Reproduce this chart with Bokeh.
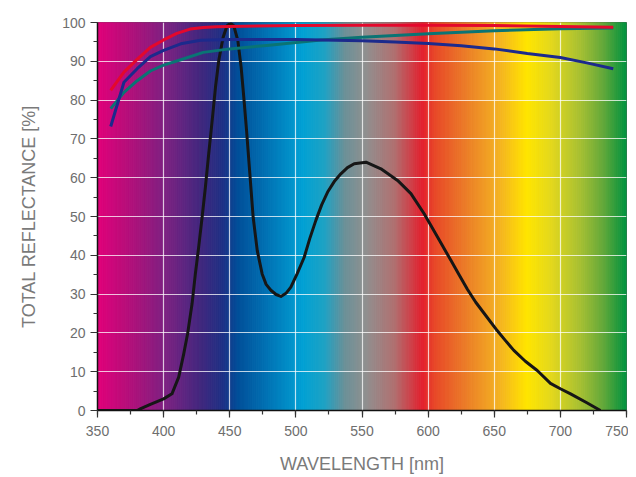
import numpy as np
from bokeh.plotting import figure
from bokeh.models import SingleIntervalTicker, FixedTicker, Range1d
from bokeh.embed import file_html
from bokeh.resources import INLINE

# ---- data ----
wl_red = [360, 370, 380, 390, 400, 410, 420, 430, 440, 450, 500, 550, 600, 650, 700, 740]
refl_red = [82.5, 87.2, 90.5, 93.6, 95.5, 97.2, 98.3, 98.7, 98.9, 99.0, 99.2, 99.3, 99.3, 99.2, 99.0, 98.8]

wl_navy = [360, 370, 380, 390, 400, 413, 428, 450, 500, 550, 575, 600, 625, 650, 675, 700, 720, 740]
refl_navy = [73.2, 84.6, 88.1, 91.2, 92.8, 94.5, 95.4, 95.6, 95.6, 95.3, 95.0, 94.6, 94.0, 93.2, 92.0, 91.0, 89.6, 88.1]

wl_teal = [360, 370, 380, 390, 400, 413, 430, 450, 478, 519, 550, 600, 650, 700, 740]
refl_teal = [77.8, 82.0, 85.0, 87.5, 89.0, 90.4, 92.3, 93.2, 94.1, 95.5, 96.2, 97.1, 97.9, 98.4, 98.6]

wl_black = [350, 380, 382.3, 390, 400, 406.3, 411.4, 415.2, 418.2, 421.5, 424, 426.5, 429.1,
            431.6, 434.1, 436.7, 439.2, 441.7, 445, 448, 450.5, 453, 456.1, 458.6, 460.6,
            462.7, 465.2, 467.7, 470.8, 474.5, 477.5, 481.1, 485, 488.7, 492.5, 496.2, 501,
            506.3, 510.5, 515.1, 519.5, 524, 529, 534, 539, 544.1, 553, 564.3, 576.9, 587,
            597, 607.1, 617.2, 623.5, 629.8, 636, 642, 652.2, 658.5, 664.8, 673.5, 682.5,
            692.5, 700, 707.7, 720, 730.3]
refl_black = [0, 0, 0.4, 1.6, 3.0, 4.3, 8.6, 14.6, 19.9, 27.5, 35.2, 42.1, 49.8,
              57.6, 66.2, 74.7, 83.3, 90.2, 96.2, 99.2, 99.8, 99.2, 95.4, 88.5, 80.8,
              72.2, 61.0, 49.8, 41.2, 35.2, 32.5, 31.0, 29.9, 29.4, 30.2, 31.8, 35.3,
              39.5, 44.3, 49.0, 53.0, 56.3, 59.0, 61.0, 62.6, 63.6, 64.0, 62.3, 59.3, 55.9,
              50.7, 44.7, 38.7, 34.9, 31.2, 27.9, 25.2, 20.6, 18.0, 15.5, 12.7, 10.3,
              7.0, 5.6, 4.3, 2.0, 0]

x_ticks = [350, 400, 450, 500, 550, 600, 650, 700, 750]
y_ticks = [0, 10, 20, 30, 40, 50, 60, 70, 80, 90, 100]

# ---- spectrum background style (colour stops) ----
spec_stops = [(350, "#e2007a"), (376, "#b0107a"), (403, "#7a2282"), (429, "#40287e"),
              (445, "#1e3085"), (457, "#00509a"), (482, "#0078b8"), (505, "#00a0d4"),
              (522, "#1ea2c4"), (537, "#6a9098"), (553, "#909090"), (575, "#b07070"),
              (596, "#e3202e"), (606, "#e84a28"), (628, "#eb7b28"), (654, "#f4b222"),
              (675, "#ffe500"), (694, "#e2d81e"), (715, "#a8c032"), (733, "#62a83a"),
              (750, "#00923e")]

def hex2rgb(h):
    h = h.lstrip("#")
    return np.array([int(h[i:i + 2], 16) for i in (0, 2, 4)], dtype=float)

stop_x = np.array([s[0] for s in spec_stops], dtype=float)
stop_c = np.array([hex2rgb(s[1]) for s in spec_stops])

step = 1.0
lefts = np.arange(x_ticks[0], x_ticks[-1], step)
mids = lefts + step / 2
cols = []
for m in mids:
    rgb = [np.interp(m, stop_x, stop_c[:, k]) for k in range(3)]
    cols.append("#%02x%02x%02x" % tuple(int(round(v)) for v in rgb))

p = figure(width=628, height=476, output_backend="svg", toolbar_location=None,
           x_range=Range1d(x_ticks[0], x_ticks[-1]), y_range=Range1d(y_ticks[0], y_ticks[-1]),
           min_border_left=97, min_border_right=2, min_border_top=22, min_border_bottom=66)
p.background_fill_color = "white"
p.border_fill_color = "white"
p.outline_line_color = "#1a1a1a"
p.outline_line_alpha = 0.7

bg = p.quad(left=lefts, right=lefts + step, bottom=y_ticks[0], top=y_ticks[-1],
            fill_color=cols, line_color=cols, line_width=1)
bg.level = "image"

# grids
p.xgrid.ticker = FixedTicker(ticks=x_ticks[1:-1])
p.ygrid.ticker = FixedTicker(ticks=y_ticks[1:-1])
for g in (p.xgrid, p.ygrid):
    g.grid_line_color = "white"
    g.grid_line_alpha = 0.75
    g.grid_line_width = 1.2

p.line(wl_black, refl_black, line_color="#161616", line_width=3, line_join="round")
p.line(wl_teal, refl_teal, line_color="#0a7474", line_width=3, line_join="round")
p.line(wl_navy, refl_navy, line_color="#1c2a8c", line_width=3, line_join="round")
p.line(wl_red, refl_red, line_color="#e4082c", line_width=3, line_join="round")

p.xaxis.ticker = SingleIntervalTicker(interval=50, num_minor_ticks=2)
p.yaxis.ticker = SingleIntervalTicker(interval=10, num_minor_ticks=2)

for ax in (p.xaxis[0], p.yaxis[0]):
    ax.axis_line_color = "#111111"
    ax.axis_line_width = 1.5
    ax.major_tick_line_color = "#333333"
    ax.minor_tick_line_color = "#333333"
    ax.major_tick_line_width = 1.2
    ax.minor_tick_line_width = 1.2
    ax.major_tick_in = 0
    ax.major_tick_out = 7
    ax.minor_tick_in = 0
    ax.minor_tick_out = 4
    ax.major_label_text_font = "Liberation Sans"
    ax.major_label_text_font_size = "14px"
    ax.major_label_text_color = "#6e6e6e"
    ax.axis_label_text_font = "Liberation Sans"
    ax.axis_label_text_font_size = "18px"
    ax.axis_label_text_font_style = "normal"
    ax.axis_label_text_color = "#7a7a7a"

p.xaxis.axis_label = "WAVELENGTH [nm]"
p.yaxis.axis_label = "TOTAL REFLECTANCE [%]"
p.xaxis.major_label_standoff = 8
p.yaxis.major_label_standoff = 5
p.xaxis.axis_label_standoff = 15
p.yaxis.axis_label_standoff = 20

open("out.html", "w").write(file_html(p, INLINE))
